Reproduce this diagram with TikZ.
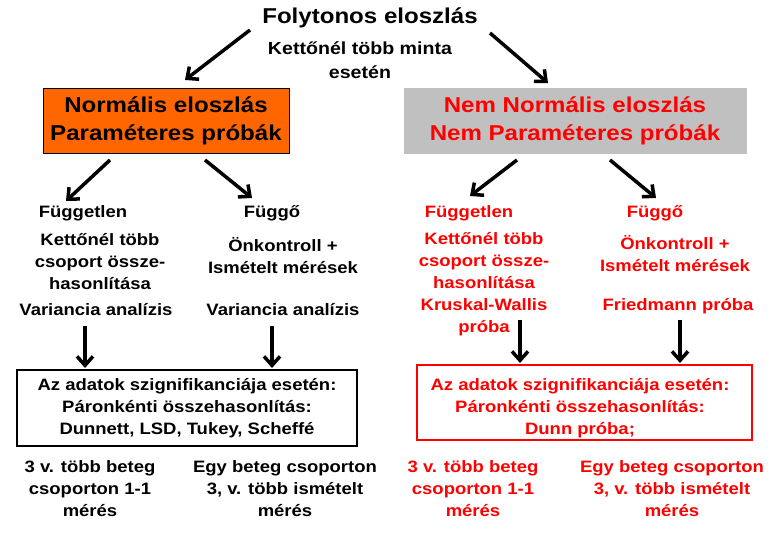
\documentclass[tikz,border=0pt]{standalone}
\usepackage{fontspec}
\setmainfont{Liberation Sans}[FakeStretch=1.12]
\usetikzlibrary{positioning,arrows.meta}
\definecolor{boxorange}{RGB}{255,102,0}
\definecolor{boxgray}{RGB}{192,192,192}
\tikzset{
  txt/.style={font=\bfseries\fontsize{16.5}{22}\selectfont, align=center, inner sep=0pt},
  head/.style={font=\bfseries\fontsize{21.5}{28}\selectfont, align=center, inner sep=0pt},
  bigarrow/.style={-{Straight Barb[length=9pt,width=16pt]}, line width=3.5pt},
}
\begin{document}
\begin{tikzpicture}[x=1pt,y=-1pt]
  \useasboundingbox[fill=white] (0,0) rectangle (780,540);
  % top
  \node[head] (title) at (370,18) {Folytonos eloszlás};
  \node[txt, font=\bfseries\fontsize{17.5}{24}\selectfont] (sub) at (360,60) {Kettőnél több minta\\esetén};
  % main boxes
  \draw[fill=boxorange] (43,88) rectangle (289,153);
  \node[head] (norm) at (166,121) {Normális eloszlás\\Paraméteres próbák};
  \draw[draw=boxgray, fill=boxgray] (404,88) rectangle (746,153);
  \node[head, text=red] (nemnorm) at (575,121) {Nem Normális eloszlás\\Nem Paraméteres próbák};
  \coordinate (t1) at (250,30); \coordinate (t1e) at (185,80);
  \coordinate (t2) at (490,33); \coordinate (t2e) at (548,83);
  \draw[bigarrow] (t1) -- (t1e);
  \draw[bigarrow] (t2) -- (t2e);
  % left branch
  \coordinate (a1) at (110,160); \coordinate (a1e) at (66,201);
  \coordinate (a2) at (205,160); \coordinate (a2e) at (252,198);
  \draw[bigarrow] (a1) -- (a1e);
  \draw[bigarrow] (a2) -- (a2e);
  \node[txt] (fl) at (83,213) {Független};
  \node[txt] (fl2) at (100,262) {Kettőnél több\\csoport össze-\\hasonlítása};
  \node[txt] (fl3) at (96,310) {Variancia analízis};
  \node[txt] (gl) at (272,213) {Függő};
  \node[txt] (gl2) at (283,256) {Önkontroll +\\Ismételt mérések};
  \node[txt] (gl3) at (283,310) {Variancia analízis};
  \coordinate (d1) at (85,326); \coordinate (d1e) at (85,368);
  \coordinate (d2) at (272,326); \coordinate (d2e) at (272,368);
  \draw[bigarrow] (d1) -- (d1e);
  \draw[bigarrow] (d2) -- (d2e);
  \draw[line width=1.5pt] (17,370) rectangle (357,446);
  \node[txt] (pl) at (187,408) {Az adatok szignifikanciája esetén:\\Páronkénti összehasonlítás:\\Dunnett, LSD, Tukey, Scheffé};
  \node[txt] (bl1) at (90,489) {3 v. több beteg\\csoporton 1-1\\mérés};
  \node[txt] (bl2) at (285,489) {Egy beteg csoporton\\3, v. több ismételt\\mérés};
  % right branch
  \begin{scope}[red]
  \coordinate (a3) at (517,160); \coordinate (a3e) at (470,196);
  \coordinate (a4) at (610,160); \coordinate (a4e) at (656,198);
  \draw[bigarrow, black] (a3) -- (a3e);
  \draw[bigarrow, black] (a4) -- (a4e);
  \node[txt] (fr) at (469,213) {Független};
  \node[txt] (fr2) at (484,284) {Kettőnél több\\csoport össze-\\hasonlítása\\Kruskal-Wallis\\próba};
  \node[txt] (gr) at (655,213) {Függő};
  \node[txt] (gr2) at (675,254) {Önkontroll +\\Ismételt mérések};
  \node[txt] (gr3) at (678,306) {Friedmann próba};
  \coordinate (d3) at (520,320); \coordinate (d3e) at (520,363);
  \coordinate (d4) at (680,320); \coordinate (d4e) at (680,363);
  \draw[bigarrow, black] (d3) -- (d3e);
  \draw[bigarrow, black] (d4) -- (d4e);
  \draw[line width=1.5pt] (417,365) rectangle (752,440);
  \node[txt] (pr) at (580,408) {Az adatok szignifikanciája esetén:\\Páronkénti összehasonlítás:\\Dunn próba;};
  \node[txt] (br1) at (473,489) {3 v. több beteg\\csoporton 1-1\\mérés};
  \node[txt] (br2) at (672,489) {Egy beteg csoporton\\3, v. több ismételt\\mérés};
  \end{scope}
\end{tikzpicture}
\end{document}
